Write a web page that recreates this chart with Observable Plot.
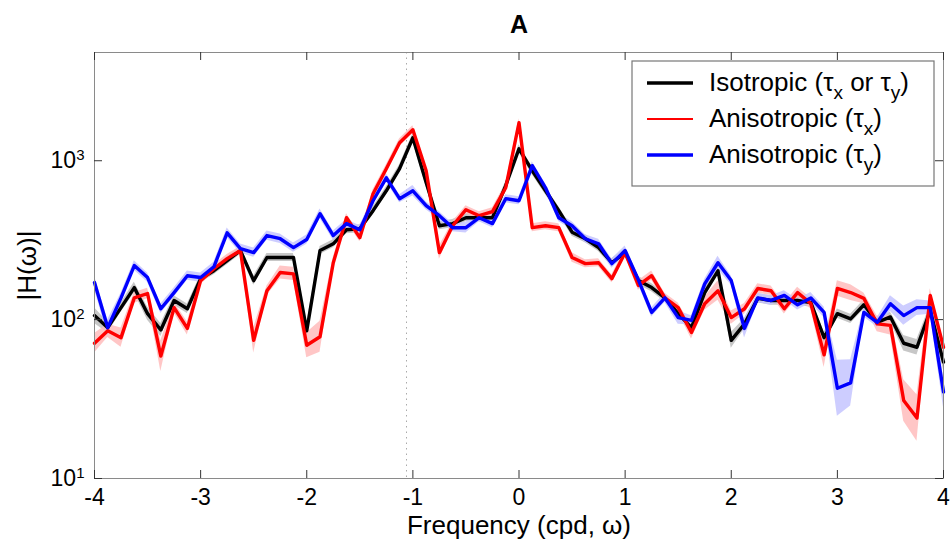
<!DOCTYPE html>
<html><head><meta charset="utf-8">
<script src="https://cdn.jsdelivr.net/npm/d3@7"></script>
<script src="https://cdn.jsdelivr.net/npm/@observablehq/plot@0.6"></script>
<style>
body{margin:0;background:#fff;}
#chart{width:952px;height:550px;}
</style></head><body><div id="chart"></div>
<script>
const title = "A";
const xLabel = "Frequency (cpd, ω)";
const yLabel = "|H(ω)|";
const xTicks = [-4, -3, -2, -1, 0, 1, 2, 3, 4];
const yTicks = [10, 100, 1000];
const yTickExp = ["1", "2", "3"];
const dottedX = -1.06;

const freq = [-4,-3.875,-3.75,-3.625,-3.5,-3.375,-3.25,-3.125,-3,-2.875,-2.75,-2.625,-2.5,-2.375,-2.25,-2.125,-2,
 -1.875,-1.75,-1.625,-1.5,-1.375,-1.25,-1.125,-1,-0.875,-0.75,-0.625,-0.5,-0.375,-0.25,-0.125,0,
 0.125,0.25,0.375,0.5,0.625,0.75,0.875,1,1.125,1.25,1.375,1.5,1.625,1.75,1.875,2,
 2.125,2.25,2.375,2.5,2.625,2.75,2.875,3,3.125,3.25,3.375,3.5,3.625,3.75,3.875,4];

const iso = [106,89,119,159,109,86,132,117,181,203,235,272,176,246,246,246,85,
 272,300,368,373,485,647,891,1396,730,390,402,438,438,438,697,1189,
 865,647,485,355,323,284,228,264,176,159,137,109,89,148,203,74,
 94,136,132,132,132,128,77,109,101,124,96,104,71,67,114,54];
const anisoX = [71,85,77,137,146,59,119,88,176,209,242,272,74,152,198,194,69,
 78,228,438,328,620,891,1298,1567,865,264,390,492,451,478,676,1734,
 379,390,379,246,225,228,181,264,164,189,137,119,83,126,152,103,
 117,157,152,117,148,126,60,157,148,136,94,92,31,24,142,67];
const anisoY = [171,89,137,219,184,117,148,189,184,215,352,280,264,338,323,284,319,
 464,338,402,368,560,781,577,647,521,451,379,379,438,402,577,560,
 931,676,438,390,323,300,225,272,178,111,137,103,99,168,228,176,
 88,137,132,142,124,137,111,37,40,111,96,126,106,119,119,35];

const isoErr = [.12,.08,.07,.08,.1,.1,.07,.07,.06,.06,.06,.06,.07,.06,.06,.06,.1,
 .06,.06,.06,.06,.06,.06,.06,.06,.06,.06,.06,.06,.06,.06,.06,.06,
 .06,.06,.06,.06,.06,.06,.06,.06,.06,.06,.06,.07,.07,.07,.07,.12,
 .08,.07,.07,.07,.07,.07,.08,.07,.07,.07,.07,.07,.12,.12,.08,.12];
const anisoXErr = [.15,.1,.15,.08,.08,.25,.08,.1,.06,.06,.06,.06,.2,.07,.1,.1,.2,
 .25,.08,.06,.06,.06,.06,.06,.06,.06,.1,.06,.06,.06,.06,.06,.06,
 .06,.06,.06,.07,.06,.06,.06,.06,.07,.07,.07,.07,.1,.1,.15,.1,
 .08,.07,.07,.08,.08,.08,.2,.12,.12,.08,.12,.15,.35,.4,.1,.1];
const anisoYErr = [.1,.12,.07,.07,.07,.07,.07,.07,.07,.07,.07,.07,.07,.07,.07,.07,.07,
 .07,.07,.06,.06,.06,.06,.06,.08,.06,.06,.06,.08,.06,.06,.06,.06,
 .06,.06,.06,.06,.06,.07,.07,.07,.07,.07,.07,.1,.07,.07,.1,.07,
 .15,.07,.07,.07,.08,.08,.08,.5,.4,.07,.07,.12,.15,.12,.1,.25];

const series = [
  {key:"iso", vals:iso, err:isoErr, color:"#000000", band:"#bdbdbd", width:3.4},
  {key:"ax", vals:anisoX, err:anisoXErr, color:"#ff0000", band:"#ffbcbc", width:3.4},
  {key:"ay", vals:anisoY, err:anisoYErr, color:"#0000ff", band:"#c4c4ff", width:3.4}
];

const W = 952, H = 550, mL = 94, mR = 9, mT = 52, mB = 72;
const fh = H - mT - mB, fw = W - mL - mR, tl = 8;
const FONT = "'Liberation Sans', Arial, sans-serif";

const bandMarks = [], lineMarks = [];
for (const s of series) {
  const rows = freq.map((f, i) => ({f, v: s.vals[i], lo: s.vals[i] / (1 + s.err[i]), hi: s.vals[i] * (1 + s.err[i])}));
  bandMarks.push(Plot.areaY(rows, {x: "f", y1: "lo", y2: "hi", fill: s.band, fillOpacity: 0.85}));
  lineMarks.push(Plot.line(rows, {x: "f", y: "v", stroke: s.color, strokeWidth: s.width, strokeLinejoin: "round"}));
}

const plot = Plot.plot({
  width: W, height: H, marginLeft: mL, marginRight: mR, marginTop: mT, marginBottom: mB,
  style: {fontFamily: FONT, fontSize: "22px", color: "#000", background: "#fff"},
  x: {domain: [-4, 4]},
  y: {type: "log", domain: [10, 4800]},
  marks: [
    Plot.ruleX([dottedX], {stroke: "#aaa", strokeDasharray: "1.5,4"}),
    ...bandMarks,
    ...lineMarks,
    Plot.frame({stroke: "#8a8a8a"}),
    Plot.tickX(xTicks, {x: d => d, insetTop: fh - tl, stroke: "#333"}),
    Plot.tickX(xTicks, {x: d => d, insetBottom: fh - tl, stroke: "#333"}),
    Plot.tickY(yTicks, {y: d => d, insetRight: fw - tl, stroke: "#333"}),
    Plot.tickY(yTicks, {y: d => d, insetLeft: fw - tl, stroke: "#333"}),
    Plot.axisX({ticks: xTicks, tickSize: 0, tickPadding: 10, tickFormat: d => String(d), fontSize: 23, label: null}),
    Plot.axisX({ticks: [], tickSize: 0, fontSize: 26,
      label: xLabel, labelAnchor: "center", labelOffset: 55, labelArrow: "none"}),
    Plot.axisY({ticks: yTicks, tickSize: 0, tickPadding: 10, tickFormat: () => "10", fontSize: 23, label: null}),
    Plot.axisY({ticks: [], tickSize: 0, fontSize: 26,
      label: yLabel, labelAnchor: "center", labelOffset: 77, labelArrow: "none"}),
    Plot.text([title], {text: d => d, frameAnchor: "top", dy: -28, lineAnchor: "middle", fontWeight: "bold", fontSize: 25})
  ]
});
document.getElementById("chart").appendChild(plot);

const svg = d3.select(plot);
// superscript exponents on y tick labels
svg.selectAll('g[aria-label="y-axis tick label"] text').each(function(d, i) {
  d3.select(this).append("tspan").attr("dy", "-0.55em").attr("font-size", "15px").text(yTickExp[i]);
});

// legend
const lg = svg.append("g").attr("font-family", FONT).attr("font-size", "26px").attr("text-anchor", "start");
lg.append("rect").attr("x", 632).attr("y", 61).attr("width", 302).attr("height", 125)
  .attr("fill", "#fff").attr("stroke", "#777").attr("stroke-width", 1.2);
const legendRows = [
  {color: "#000000", w: 3.5, parts: [["Isotropic (τ", 0], ["x", 1], [" or τ", 0], ["y", 1], [")", 0]]},
  {color: "#ff0000", w: 2.2, parts: [["Anisotropic (τ", 0], ["x", 1], [")", 0]]},
  {color: "#0000ff", w: 3.5, parts: [["Anisotropic (τ", 0], ["y", 1], [")", 0]]}
];
legendRows.forEach((r, i) => {
  const y = 83 + i * 36;
  lg.append("line").attr("x1", 647).attr("x2", 693).attr("y1", y).attr("y2", y)
    .attr("stroke", r.color).attr("stroke-width", r.w);
  const t = lg.append("text").attr("x", 709).attr("y", y + 8).attr("fill", "#000");
  let shifted = false;
  r.parts.forEach(([s, sub]) => {
    const ts = t.append("tspan").text(s);
    if (sub && !shifted) { ts.attr("dy", 8).attr("font-size", "19px"); shifted = true; }
    else if (!sub && shifted) { ts.attr("dy", -8); shifted = false; }
  });
});
</script></body></html>
